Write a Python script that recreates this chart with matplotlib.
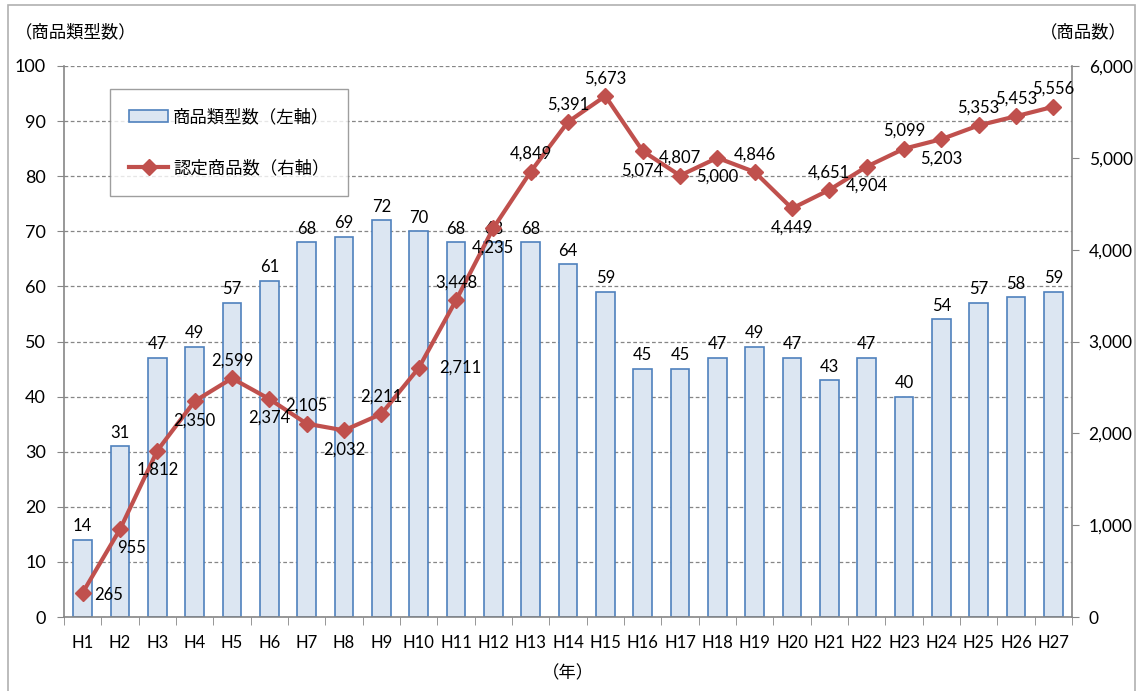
import matplotlib
matplotlib.use("Agg")
from matplotlib import pyplot as plt
from matplotlib.patches import Rectangle
from matplotlib.ticker import FuncFormatter, MultipleLocator

plt.rcParams['font.family'] = ['Lato', 'Noto Sans CJK JP', 'DejaVu Sans']
plt.rcParams['font.size'] = 12
jp = ['Noto Sans CJK JP', 'DejaVu Sans']

years = ["H%d" % i for i in range(1, 28)]
types_count = [14, 31, 47, 49, 57, 61, 68, 69, 72, 70, 68, 68, 68, 64, 59,
               45, 45, 47, 49, 47, 43, 47, 40, 54, 57, 58, 59]
items_count = [265, 955, 1812, 2350, 2599, 2374, 2105, 2032, 2211, 2711, 3448,
               4235, 4849, 5391, 5673, 5074, 4807, 5000, 4846, 4449, 4651,
               4904, 5099, 5203, 5353, 5453, 5556]

# where each line label sits relative to its point
label_pos = ["right", "belowright", "below", "below", "above", "below", "above",
             "below", "above", "farright", "above", "below", "above", "above",
             "above", "below", "above", "below", "above", "below", "above",
             "below", "above", "below", "above", "above", "above"]

gray = "#868686"
bar_fill = "#dce6f2"
bar_edge = "#4f81bd"
red = "#c0504d"

fig = plt.figure(figsize=(11.39, 6.91), dpi=100)
fig.patches.append(Rectangle((8/1139, -0.01), 1127/1139, 1.0 - 5/691 + 0.01,
                             transform=fig.transFigure, fill=False,
                             edgecolor="#b0b0b0", linewidth=1.2))

ax = fig.add_axes([64/1139, 1 - 617/691, 1008/1139, 551/691])
x = list(range(len(years)))
bars = ax.bar(x, types_count, width=0.5, color=bar_fill, edgecolor=bar_edge,
              linewidth=1.2, zorder=2)
for xi, v in zip(x, types_count):
    ax.annotate(str(v), (xi, v), xytext=(0, 4), textcoords="offset points",
                ha="center", va="bottom", fontsize=12)

ax.set_xlim(-0.5, len(years) - 0.5)
ax.set_ylim(0, 100)
ax.yaxis.set_major_locator(MultipleLocator(10))
ax.grid(axis="y", color=gray, linestyle=(0, (3, 2)), linewidth=0.9)
ax.set_axisbelow(True)
ax.set_xticks(x)
ax.set_xticklabels(years)
ax.set_xticks([i + 0.5 for i in range(-1, len(years))], minor=True)
ax.tick_params(axis="x", which="major", length=0, pad=13, labelsize=12)
ax.tick_params(axis="x", which="minor", length=6, color=gray, direction="out")
ax.tick_params(axis="y", length=5, color=gray, direction="out", pad=8,
               labelsize=13)
for s in ["left", "bottom"]:
    ax.spines[s].set_color(gray)
    ax.spines[s].set_linewidth(1.2)
for s in ["top", "right"]:
    ax.spines[s].set_visible(False)

ax2 = ax.twinx()
line, = ax2.plot(x, items_count, color=red, linewidth=3, marker="D",
                 markersize=8, zorder=3)
ax2.set_ylim(0, 6000)
ax2.yaxis.set_major_locator(MultipleLocator(1000))
ax2.yaxis.set_major_formatter(FuncFormatter(lambda v, p: "{:,.0f}".format(v)))
ax2.tick_params(axis="y", length=5, color=gray, direction="out", pad=7,
                labelsize=12.5)
ax2.spines["right"].set_color(gray)
ax2.spines["right"].set_linewidth(1.2)
for s in ["top", "left", "bottom"]:
    ax2.spines[s].set_visible(False)

offsets = {"above": ((0, 7), "center", "bottom"),
           "below": ((0, -8), "center", "top"),
           "right": ((8, -2), "left", "center"),
           "farright": ((15, 0), "left", "center"),
           "belowright": ((-2, -8), "left", "top")}
for xi, v, p in zip(x, items_count, label_pos):
    off, ha, va = offsets[p]
    ax2.annotate("{:,}".format(v), (xi, v), xytext=off,
                 textcoords="offset points", ha=ha, va=va, fontsize=12,
                 zorder=4)

leg = ax2.legend([bars, line], ["商品類型数（左軸）", "認定商品数（右軸）"],
                 loc="upper left", bbox_to_anchor=(0.046, 0.958),
                 frameon=True, fancybox=False, numpoints=1,
                 handlelength=2.2, handletextpad=0.3, labelspacing=1.9,
                 borderpad=1.1, borderaxespad=0,
                 prop={'family': jp, 'size': 12.5})
leg.get_frame().set_edgecolor(gray)
leg.get_frame().set_linewidth(1.0)

fig.text(15/1139, 1 - 32/691, "（商品類型数）", ha="left", va="center",
         fontsize=12.5, family=jp)
fig.text(1127/1139, 1 - 32/691, "（商品数）", ha="right", va="center",
         fontsize=12.5, family=jp)
fig.text(568/1139, 1 - 673/691, "（年）", ha="center", va="center",
         fontsize=12.5, family=jp)

fig.savefig("out.png", dpi=100)
